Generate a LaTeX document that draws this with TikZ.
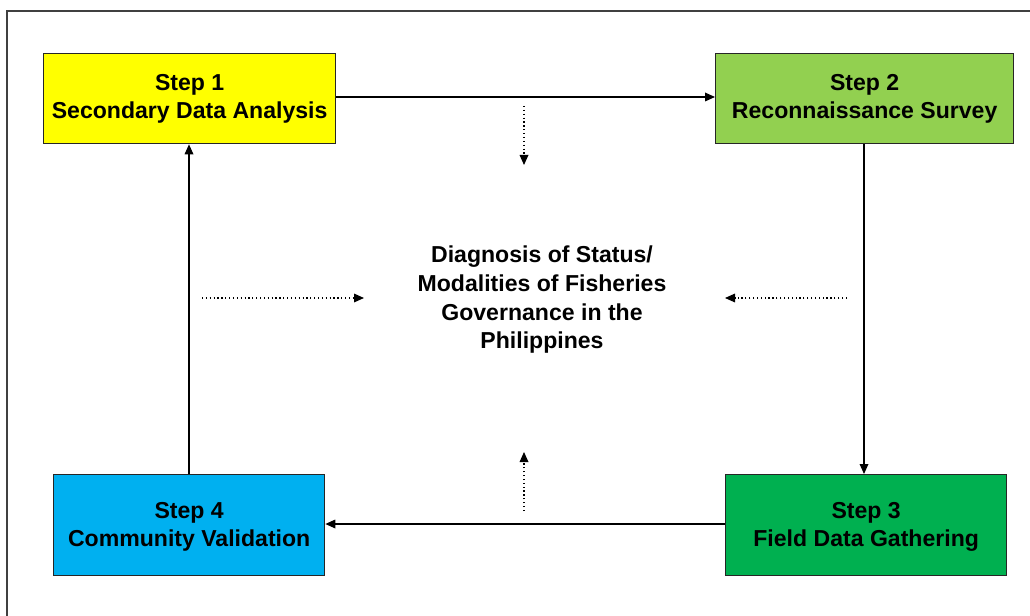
\documentclass[tikz,border=0pt]{standalone}
\usepackage{fontspec}
\setmainfont{Liberation Sans}
\usetikzlibrary{arrows.meta}
\definecolor{yel}{HTML}{FFFF00}
\definecolor{lgreen}{HTML}{92D050}
\definecolor{dgreen}{HTML}{00B050}
\definecolor{cblue}{HTML}{00B0F0}
\begin{document}
\begin{tikzpicture}[x=0.75pt,y=-0.75pt,
  stepbox/.style={draw=black!85,line width=1pt,inner sep=0pt,anchor=north west,
    font=\bfseries\fontsize{17.3}{21}\selectfont,align=center},
  flow/.style={line width=0.9pt,-{Triangle[length=7.5pt,width=6.5pt]}},
  hint/.style={line width=0.9pt,dotted,-{Triangle[length=7.5pt,width=6.5pt]}}]
\useasboundingbox (0,0) rectangle (1030,616);
\fill[white] (0,0) rectangle (1030,616);
\draw[black!75,line width=1.2pt] (1030,11) -- (7,11) -- (7,616);
\node[stepbox,fill=yel,minimum width=292*0.75pt,minimum height=90*0.75pt] (s1) at (43,53) {Step 1\\Secondary Data Analysis};
\node[stepbox,fill=lgreen,minimum width=298*0.75pt,minimum height=90*0.75pt] (s2) at (715,53) {Step 2\\Reconnaissance Survey};
\node[stepbox,fill=dgreen,minimum width=281*0.75pt,minimum height=101*0.75pt] (s3) at (725,474) {\rule{0pt}{15pt}Step 3\\Field Data Gathering};
\node[stepbox,fill=cblue,minimum width=271*0.75pt,minimum height=101*0.75pt] (s4) at (53,474) {\rule{0pt}{15pt}Step 4\\Community Validation};
\node[font=\bfseries\fontsize{17.3}{21.5}\selectfont,align=center] (c) at (542,300) {Diagnosis of Status/\\Modalities of Fisheries\\Governance in the\\Philippines};
\draw[flow] (s1.east |- 0,97) -- (s2.west |- 0,97);
\draw[flow] (s2.south -| 864,0) -- (s3.north -| 864,0);
\draw[flow] (s3.west |- 0,524) -- (s4.east |- 0,524);
\draw[flow] (s4.north -| 189,0) -- (s1.south -| 189,0);
\coordinate (l0) at (202,298); \coordinate (l1) at (364,298);
\coordinate (r0) at (847,298); \coordinate (r1) at (725,298);
\coordinate (t0) at (524,106); \coordinate (t1) at (524,165);
\coordinate (b0) at (524,511); \coordinate (b1) at (524,452);
\draw[hint] (l0) -- (l1);
\draw[hint] (r0) -- (r1);
\draw[hint] (t0) -- (t1);
\draw[hint] (b0) -- (b1);
\end{tikzpicture}
\end{document}
